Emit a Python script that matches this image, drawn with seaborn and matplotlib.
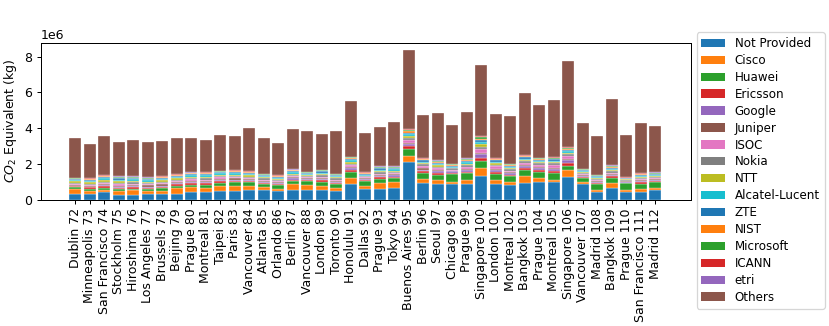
import pandas as pd
import numpy as np
import matplotlib.pyplot as plt
import seaborn as sns
from matplotlib.patches import Patch

# meetings (x axis)
meetings = ["Dublin 72", "Minneapolis 73", "San Francisco 74", "Stockholm 75", "Hiroshima 76",
            "Los Angeles 77", "Brussels 78", "Beijing 79", "Prague 80", "Montreal 81",
            "Taipei 82", "Paris 83", "Vancouver 84", "Atlanta 85", "Orlando 86",
            "Berlin 87", "Vancouver 88", "London 89", "Toronto 90", "Honolulu 91",
            "Dallas 92", "Prague 93", "Tokyo 94", "Buenos Aires 95", "Berlin 96",
            "Seoul 97", "Chicago 98", "Prague 99", "Singapore 100", "London 101",
            "Montreal 102", "Bangkok 103", "Prague 104", "Montreal 105", "Singapore 106",
            "Vancouver 107", "Madrid 108", "Bangkok 109", "Prague 110", "San Francisco 111",
            "Madrid 112"]

# CO2 per company, in millions of kg
not_provided = [.33, .33, .40, .28, .26, .33, .30, .30, .43, .43, .46, .46, .56, .52, .46, .54, .56, .52, .48, .87,
                .58, .61, .63, 2.08, .93, .87, .85, .85, 1.34, .89, .80, .95, 1.0, .99, 1.25, .85, .43, .63, .43, .43, .52]
cisco = [.28, .17, .15, .17, .26, .15, .19, .35, .28, .19, .30, .30, .22, .17, .15, .33, .26, .26, .17, .35,
         .17, .30, .35, .34, .24, .22, .15, .26, .45, .20, .17, .39, .22, .13, .39, .11, .13, .32, .13, .15, .15]
huawei = [.07, .11, .10, .13, .07, .12, .15, .12, .13, .22, .19, .20, .19, .19, .20, .17, .22, .19, .22, .34,
          .26, .24, .22, .43, .30, .28, .43, .35, .37, .34, .34, .30, .32, .34, .26, .24, .30, .26, .34, .30, .30]
ericsson = [.06, .07, .09, .08, .09, .07, .08, .09, .09, .08, .08, .09, .07, .07, .07, .08, .07, .10, .07, .10,
            .07, .09, .08, .13, .10, .10, .07, .10, .16, .11, .08, .10, .09, .11, .12, .07, .07, .09, .05, .08, .07]
google = [.04, .04, .05, .05, .05, .05, .05, .05, .06, .06, .06, .06, .05, .05, .05, .06, .05, .06, .05, .09,
          .05, .07, .07, .12, .11, .10, .07, .10, .22, .12, .09, .12, .12, .14, .17, .06, .06, .08, .04, .07, .06]
juniper = [.06, .06, .07, .07, .08, .07, .08, .07, .07, .07, .07, .07, .06, .06, .05, .06, .05, .07, .06, .07,
           .05, .06, .06, .08, .06, .06, .04, .06, .08, .06, .05, .06, .05, .06, .07, .04, .04, .05, .03, .04, .04]
isoc = [.05, .05, .06, .07, .08, .06, .07, .07, .07, .07, .08, .08, .07, .06, .06, .07, .06, .08, .07, .10,
        .06, .08, .08, .14, .12, .11, .07, .11, .18, .13, .09, .13, .13, .15, .15, .06, .06, .08, .04, .07, .07]
nokia = [.06, .06, .07, .07, .07, .06, .07, .06, .07, .07, .07, .07, .06, .06, .06, .07, .05, .07, .06, .09,
         .05, .08, .07, .12, .10, .09, .06, .10, .16, .10, .08, .10, .09, .10, .12, .06, .06, .08, .04, .07, .06]
ntt = [.07, .08, .09, .09, .08, .08, .08, .07, .07, .08, .07, .07, .07, .06, .06, .07, .05, .07, .06, .08,
       .05, .07, .06, .11, .08, .08, .05, .08, .15, .09, .07, .08, .08, .09, .10, .05, .06, .07, .03, .06, .06]
alcatel = [.07, .08, .12, .11, .09, .09, .08, .09, .10, .11, .09, .10, .09, .08, .07, .09, .07, .09, .07, .10,
           .06, .08, .07, .10, .07, .07, .05, .07, .10, .07, .05, .06, .05, .06, .07, .04, .04, .05, .03, .05, .04]
zte = [.05, .06, .08, .08, .07, .06, .07, .06, .06, .07, .06, .06, .05, .05, .05, .06, .04, .06, .05, .08,
       .05, .07, .06, .09, .08, .07, .05, .07, .10, .08, .06, .07, .06, .07, .08, .05, .05, .06, .03, .05, .05]
nist = [.03, .03, .03, .03, .03, .03, .03, .03, .03, .03, .03, .03, .03, .03, .03, .03, .03, .03, .03, .05,
        .03, .04, .04, .07, .05, .05, .04, .05, .09, .05, .04, .05, .05, .05, .06, .03, .04, .05, .02, .04, .03]
microsoft = [.02, .03, .03, .03, .03, .03, .03, .03, .03, .03, .03, .03, .03, .02, .02, .03, .02, .03, .03, .04,
             .02, .03, .03, .06, .04, .04, .03, .04, .08, .05, .04, .04, .04, .05, .05, .03, .03, .04, .02, .04, .03]
icann = [.02, .02, .02, .02, .02, .02, .02, .02, .02, .02, .02, .02, .02, .02, .02, .02, .02, .02, .02, .02,
         .02, .02, .02, .05, .04, .03, .02, .03, .06, .03, .02, .03, .03, .03, .04, .02, .02, .03, .01, .02, .03]
etri = [.01, .01, .02, .02, .02, .02, .02, .02, .02, .02, .01, .02, .01, .01, .01, .01, .01, .02, .01, .02,
        .01, .02, .02, .03, .03, .03, .01, .03, .04, .03, .02, .03, .02, .03, .03, .01, .01, .02, .01, .02, .02]
others = [2.21, 1.91, 2.18, 1.94, 2.03, 1.96, 1.94, 2.02, 1.92, 1.78, 2.01, 1.88, 2.42, 2.00, 1.79, 2.24, 2.28, 1.98, 2.37, 3.13,
          2.21, 2.22, 2.50, 4.41, 2.36, 2.64, 2.20, 2.62, 3.96, 2.42, 2.67, 3.45, 2.94, 3.17, 4.77, 2.54, 2.16, 3.69, 2.38, 2.77, 2.57]

companies = ["Not Provided", "Cisco", "Huawei", "Ericsson", "Google", "Juniper", "ISOC", "Nokia",
             "NTT", "Alcatel-Lucent", "ZTE", "NIST", "Microsoft", "ICANN", "etri", "Others"]
series = [not_provided, cisco, huawei, ericsson, google, juniper, isoc, nokia,
          ntt, alcatel, zte, nist, microsoft, icann, etri, others]

# long form table
rows = []
for comp, vals in zip(companies, series):
    for m, v in zip(meetings, vals):
        rows.append({"meeting": m, "company": comp, "co2": v * 1e6})
df = pd.DataFrame(rows)

tab = sns.color_palette("tab10")
palette = {c: tab[i % 10] for i, c in enumerate(companies)}

dpi = 90
fig = plt.figure(figsize=(830 / dpi, 326 / dpi), dpi=dpi)
ax = fig.add_axes([0.0488, 0.388, 0.7834, 0.481])

# histplot stacks the last hue level at the bottom
sns.histplot(data=df, x="meeting", weights="co2", hue="company", hue_order=companies[::-1],
             palette=palette, multiple="stack", discrete=True, shrink=0.8,
             alpha=1, edgecolor="white", linewidth=0.25, legend=False, ax=ax)

ax.set_xlim(-2.4, 42.45)
ax.set_xlabel("")
ax.set_ylabel("$CO_2$ Equivalent (kg)")
ax.tick_params(axis="x", rotation=90)

handles = [Patch(facecolor=palette[c], label=c) for c in companies]
fig.legend(handles=handles, loc="upper left", bbox_to_anchor=(0.8394, 0.901),
           borderaxespad=0, fontsize=9.5, labelspacing=0.33)

fig.savefig("out.png", dpi=dpi)
